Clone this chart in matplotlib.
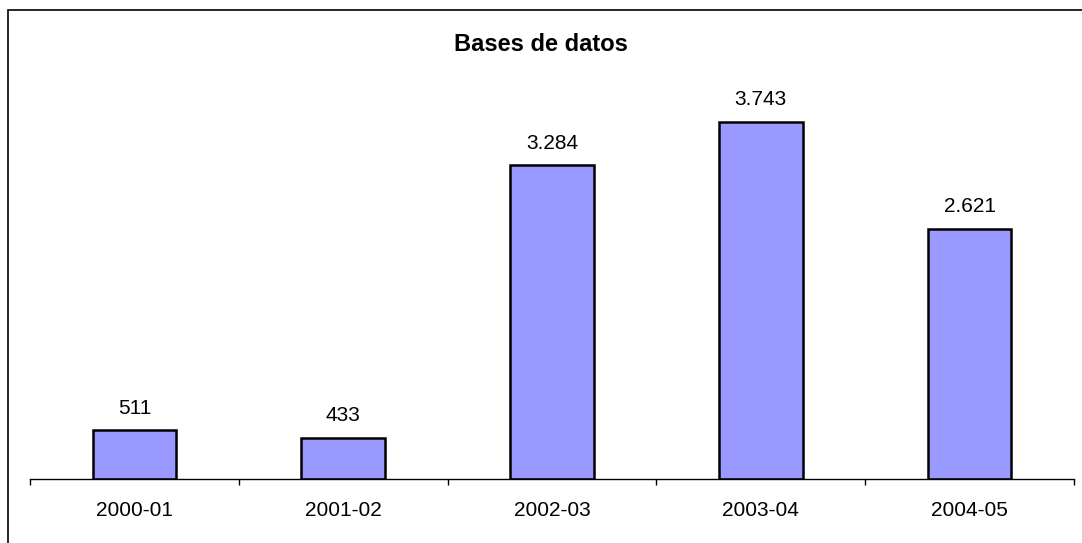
import matplotlib
matplotlib.use("Agg")
import matplotlib.pyplot as plt
from matplotlib.patches import Rectangle

plt.rcParams['font.family'] = ['Liberation Sans', 'DejaVu Sans']

# data
cursos = ["2000-01", "2001-02", "2002-03", "2003-04", "2004-05"]
valores = [511, 433, 3284, 3743, 2621]
etiquetas = ["511", "433", "3.284", "3.743", "2.621"]

fig = plt.figure(figsize=(10.82, 5.43), dpi=100)
ax = fig.add_axes([30 / 1082, 64 / 543, 1044 / 1082, 382 / 543])

x = list(range(len(cursos)))
bars = ax.bar(x, valores, width=0.4, color="#9999FF", edgecolor="black", linewidth=1.8)

for b, txt in zip(bars, etiquetas):
    ax.annotate(txt, (b.get_x() + b.get_width() / 2, b.get_height()),
                xytext=(0, 12), textcoords="offset points",
                ha="center", va="baseline", fontsize=15)

ax.set_xlim(-0.5, len(cursos) - 0.5)
ax.set_ylim(0, 4000)

# ticks between categories, labels in the middle
ax.set_xticks([i - 0.5 for i in range(len(cursos) + 1)])
ax.set_xticklabels([])
ax.set_xticks(x, minor=True)
ax.set_xticklabels(cursos, minor=True, fontsize=15)
ax.tick_params(axis="x", which="major", direction="out", length=4.5, width=1)
ax.tick_params(axis="x", which="minor", length=0, pad=16)
ax.set_yticks([])

for s in ["left", "right", "top"]:
    ax.spines[s].set_visible(False)
ax.spines["bottom"].set_linewidth(1)

fig.text(0.5, 1 - 51 / 543, "Bases de datos", ha="center", va="baseline",
         fontsize=17, fontweight="bold")

# outer frame
fig.patches.append(Rectangle((8 / 1082, -0.05), 1.2, 1.05 - 10 / 543,
                             transform=fig.transFigure, fill=False,
                             edgecolor="black", linewidth=1.2))

fig.savefig("out.png", dpi=100)
